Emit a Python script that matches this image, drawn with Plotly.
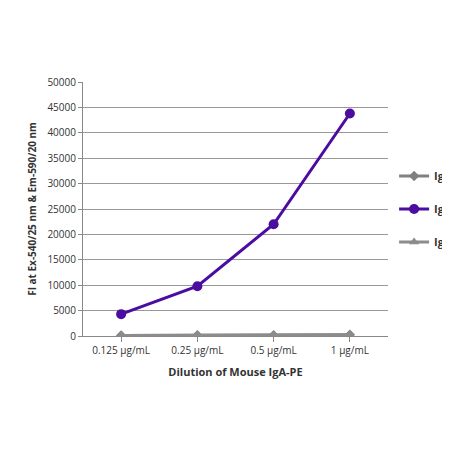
import plotly.graph_objects as go

categories = ["0.125 µg/mL", "0.25 µg/mL", "0.5 µg/mL", "1 µg/mL"]
igg = [100, 150, 150, 250]
iga = [4300, 9800, 22000, 43800]
igm = [100, 150, 150, 250]
yticks = list(range(0, 50001, 5000))

fig = go.Figure()
fig.add_trace(go.Scatter(x=categories, y=igg, name="IgG", legendgroup="g", mode="lines+markers",
    line=dict(color="#808080", width=3), marker=dict(symbol="diamond", size=8, color="#808080")))
fig.add_trace(go.Scatter(x=categories, y=iga, name="IgA", legendgroup="a", mode="lines+markers",
    line=dict(color="#4B0CA0", width=3), marker=dict(symbol="circle", size=10, color="#4B0CA0")))
fig.add_trace(go.Scatter(x=categories, y=igm, name="IgM", legendgroup="m", mode="lines+markers",
    line=dict(color="#8C8C8C", width=3), marker=dict(symbol="triangle-up", size=9, color="#8C8C8C")))

fig.update_layout(
    width=450, height=450, plot_bgcolor="white", paper_bgcolor="white",
    margin=dict(l=75, r=70, t=74, b=122, autoexpand=False),
    font=dict(family="Open Sans", size=10, color="#333"),
    showlegend=True,
    legend=dict(x=1.02, y=0.5, yanchor="middle", xanchor="left", tracegroupgap=14,
                font=dict(family="Open Sans", size=11, color="#333", weight="bold"),
                itemwidth=30),
    xaxis=dict(title=dict(text="<b>Dilution of Mouse IgA-PE</b>", font=dict(size=11), standoff=12),
               range=[-0.5, 3.5], showgrid=False,
               showline=True, linecolor="#888", ticks="outside", tickcolor="#888", ticklen=5),
    yaxis=dict(title=dict(text="<b>FI at Ex-540/25 nm & Em-590/20 nm</b>", font=dict(size=10), standoff=8),
               range=[0, 50000], tickvals=yticks, ticktext=[str(v) for v in yticks],
               showgrid=True, gridcolor="#999", zeroline=False,
               showline=True, linecolor="#888", ticks="outside", tickcolor="#888", ticklen=4),
)
fig.write_html("out.html")
